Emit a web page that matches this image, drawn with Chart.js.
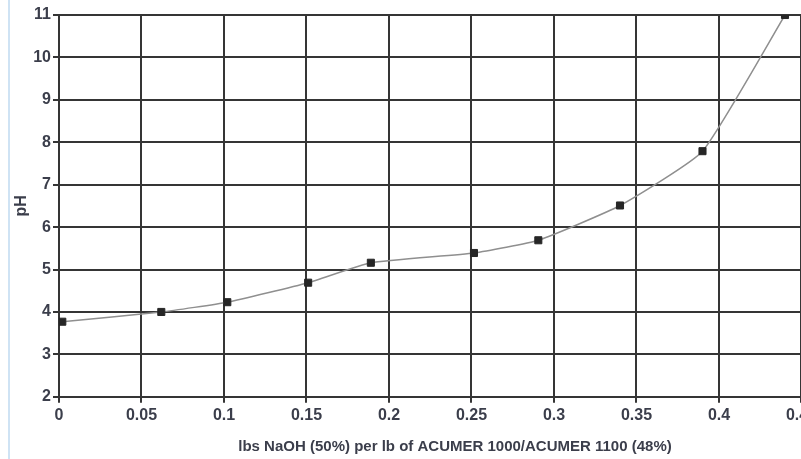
<!DOCTYPE html>
<html>
<head>
<meta charset="utf-8">
<script src="https://cdn.jsdelivr.net/npm/chart.js@4"></script>
<style>
  html, body { margin: 0; padding: 0; background: #ffffff; overflow: hidden; }
  #wrap { position: relative; width: 801px; height: 459px; overflow: hidden; }
  #edge { position: absolute; left: 8px; top: 0; width: 2px; height: 459px; background: #cfe3f4; }
  #box { position: absolute; left: 0; top: 0; width: 857px; height: 459px; }
</style>
</head>
<body>
<div id="wrap">
  <div id="edge"></div>
  <div id="box"><canvas id="c"></canvas></div>
</div>
<script>
// Data
const naohRatio = [0.002, 0.062, 0.102, 0.151, 0.189, 0.2515, 0.2905, 0.340, 0.390, 0.440];
const phValues  = [3.77, 4.00, 4.23, 4.69, 5.16, 5.39, 5.69, 6.51, 7.79, 11.0];
const xTickValues = [0, 0.05, 0.1, 0.15, 0.2, 0.25, 0.3, 0.35, 0.4, 0.45];
const xTickLabels = ['0', '0.05', '0.1', '0.15', '0.2', '0.25', '0.3', '0.35', '0.4', '0.45'];
const yTickValues = [2, 3, 4, 5, 6, 7, 8, 9, 10, 11];
const yTickLabels = ['2', '3', '4', '5', '6', '7', '8', '9', '10', '11'];
const xTitle = 'lbs NaOH (50%) per lb of ACUMER 1000/ACUMER 1100 (48%)';
const yTitle = 'pH';

const points = naohRatio.map((x, i) => ({ x: x, y: phValues[i] }));
const textColor = '#3b3e4b';
const gridColor = '#353535';
const fontFamily = '"Liberation Sans", Arial, sans-serif';

new Chart(document.getElementById('c'), {
  type: 'scatter',
  data: {
    datasets: [{
      data: points,
      showLine: true,
      borderColor: '#8f8f8f',
      borderWidth: 1.5,
      tension: 0.15,
      pointStyle: 'rect',
      pointRadius: 5,
      pointHoverRadius: 5,
      pointBackgroundColor: '#262626',
      pointBorderColor: '#262626',
      pointBorderWidth: 1
    }]
  },
  options: {
    responsive: true,
    maintainAspectRatio: false,
    animation: false,
    layout: { padding: { top: 15, bottom: 3, left: 0, right: 0 } },
    plugins: { legend: { display: false }, tooltip: { enabled: false } },
    scales: {
      x: {
        type: 'linear',
        min: 0,
        max: 0.48,
        afterBuildTicks: (scale) => { scale.ticks = xTickValues.map(v => ({ value: v })); },
        ticks: {
          color: textColor,
          padding: 3,
          maxRotation: 0,
          autoSkip: false,
          font: { family: fontFamily, size: 16, weight: 'bold' },
          callback: (v, i) => xTickLabels[i]
        },
        grid: { color: gridColor, lineWidth: 2, tickLength: 6, drawTicks: true },
        border: { color: gridColor, width: 2 },
        title: {
          display: true,
          text: xTitle,
          color: textColor,
          padding: { top: 10, bottom: 0 },
          font: { family: fontFamily, size: 15, weight: 'bold' }
        }
      },
      y: {
        min: 2,
        max: 11,
        afterBuildTicks: (scale) => { scale.ticks = yTickValues.map(v => ({ value: v })); },
        ticks: {
          color: textColor,
          padding: 2,
          font: { family: fontFamily, size: 16, weight: 'bold' },
          callback: (v, i) => yTickLabels[i]
        },
        grid: { color: gridColor, lineWidth: 2, tickLength: 6 },
        border: { color: gridColor, width: 2 },
        title: {
          display: true,
          text: yTitle,
          color: textColor,
          padding: { top: 12, bottom: 0 },
          font: { family: fontFamily, size: 16, weight: 'bold' }
        }
      }
    }
  }
});
</script>
</body>
</html>
